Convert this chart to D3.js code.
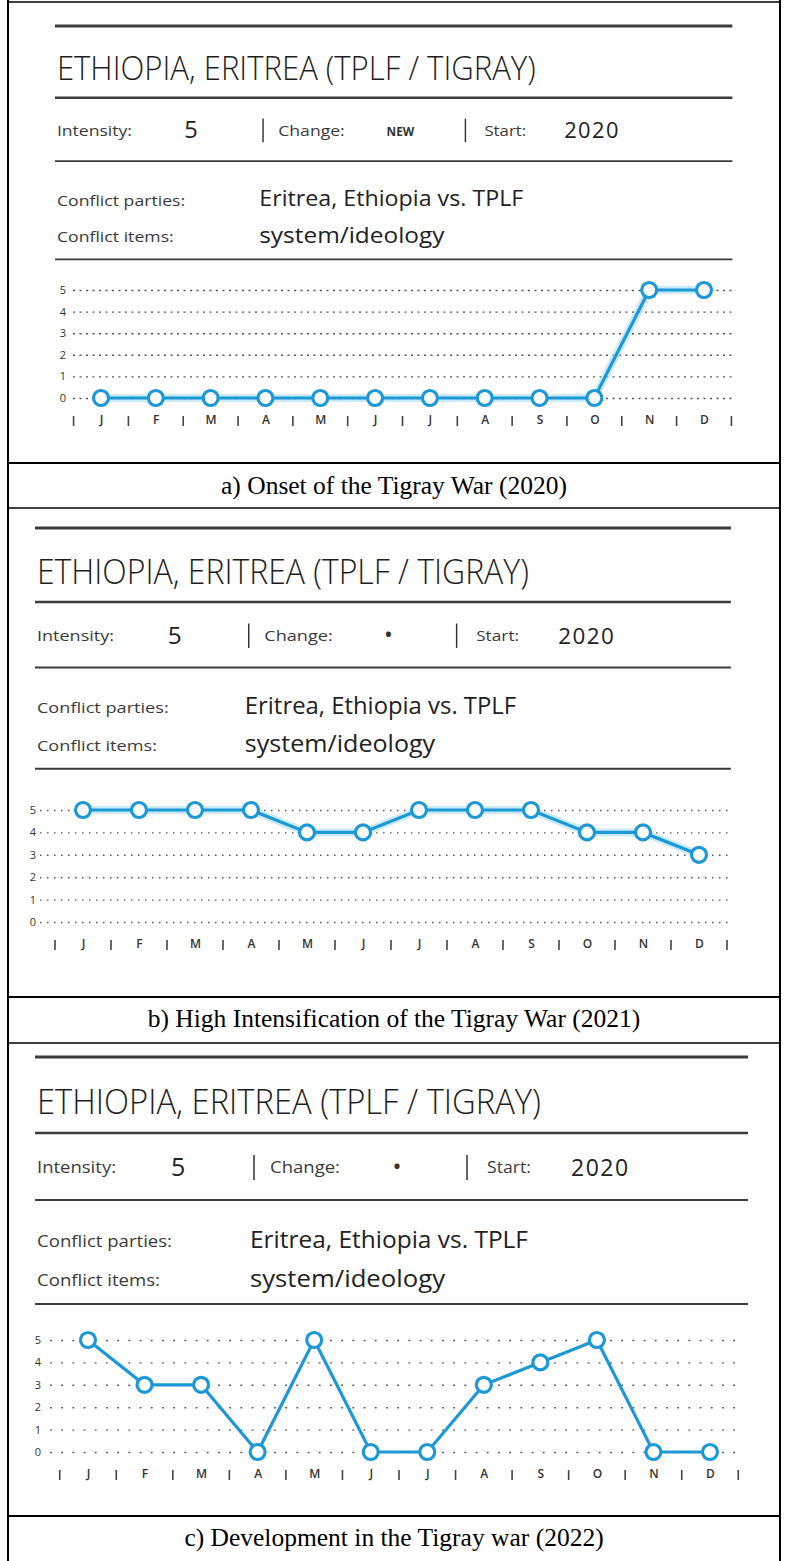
<!DOCTYPE html>
<html>
<head>
<meta charset="utf-8">
<script src="https://cdn.jsdelivr.net/npm/d3@7"></script>
<style>
  body { margin: 0; background: #fff; }
  svg { display: block; }
</style>
</head>
<body>
<svg id="fig"></svg>
<script>
// ---- data ----
const monthKeys = ["Jan", "Feb", "Mar", "Apr", "May", "Jun", "Jul", "Aug", "Sep", "Oct", "Nov", "Dec"];
const monthLabels = ["J", "F", "M", "A", "M", "J", "J", "A", "S", "O", "N", "D"];
const intensityTicks = [0, 1, 2, 3, 4, 5];
const intensity2020 = [0, 0, 0, 0, 0, 0, 0, 0, 0, 0, 5, 5];
const intensity2021 = [5, 5, 5, 5, 4, 4, 5, 5, 5, 4, 4, 3];
const intensity2022 = [5, 3, 3, 0, 5, 0, 0, 3, 4, 5, 0, 0];
const conflictTitle = "ETHIOPIA, ERITREA (TPLF / TIGRAY)";
const conflictParties = "Eritrea, Ethiopia vs. TPLF";
const conflictItems = "system/ideology";
const intensityValues = ["5", "5", "5"];
const changeValues = ["NEW", "•", "•"];
const startValues = ["2020", "2020", "2020"];
const captions = [
  "a) Onset of the Tigray War (2020)",
  "b) High Intensification of the Tigray War (2021)",
  "c) Development in the Tigray war (2022)"
];

const W = 785, H = 1561;
const blue = "#1b98d5";
const sans = "'Open Sans', 'DejaVu Sans', sans-serif";

// layout of the three screenshots (header is drawn in c's coordinates and scaled)
const panels = [
  { values: intensity2020,
    head: { tx: 55, ty: 26, sx: 0.95, sy: 0.945 },
    chart: { x0: 101, x1: 704, y5: 290, y0: 398, g0: 73, g1: 735, lab: 421, ylx: 62, dash: "2,4.5", halo: true },
    capY: 494 },
  { values: intensity2021,
    head: { tx: 35, ty: 528, sx: 0.976, sy: 0.975 },
    chart: { x0: 83, x1: 699, y5: 810, y0: 922, g0: 40, g1: 733, lab: 945, ylx: 32, dash: "1.5,5.5", halo: true },
    capY: 1027 },
  { values: intensity2022,
    head: { tx: 35, ty: 1057, sx: 1, sy: 1 },
    chart: { x0: 88, x1: 710, y5: 1340, y0: 1452, g0: 50, g1: 743, lab: 1475, ylx: 37, dash: "1.8,9.4", halo: false },
    capY: 1546 }
];

const svg = d3.select("#fig").attr("width", W).attr("height", H);
svg.append("rect").attr("width", W).attr("height", H).attr("fill", "#fff");

function drawHeader(p, i) {
  const h = p.head;
  const g = svg.append("g")
    .attr("transform", `translate(${h.tx},${h.ty}) scale(${h.sx},${h.sy})`);

  [[0, 3], [76, 2.6], [143, 2], [247, 2]].forEach(([y, w]) => {
    g.append("line").attr("x1", 0).attr("x2", 713).attr("y1", y).attr("y2", y)
      .attr("stroke", "#3c3c3c").attr("stroke-width", w);
  });

  g.append("text").attr("x", 2).attr("y", 57)
    .attr("font-family", sans).attr("font-weight", 300).attr("font-size", 35)
    .attr("textLength", 504).attr("lengthAdjust", "spacingAndGlyphs")
    .attr("fill", "#1e1e1e").text(conflictTitle);

  const label = (x, y, t, len) => {
    const el = g.append("text").attr("x", x).attr("y", y)
      .attr("font-family", sans).attr("font-size", 15.5).attr("fill", "#3a3a3a").text(t);
    if (len) el.attr("textLength", len).attr("lengthAdjust", "spacingAndGlyphs");
    return el;
  };

  label(2, 116, "Intensity:", 79);
  g.append("text").attr("x", 136).attr("y", 119)
    .attr("font-family", sans).attr("font-size", 25).attr("fill", "#222").text(intensityValues[i]);

  [219, 432].forEach(x => {
    g.append("line").attr("x1", x).attr("x2", x).attr("y1", 98).attr("y2", 123)
      .attr("stroke", "#333").attr("stroke-width", 1.5);
  });
  label(235, 116, "Change:", 70);
  if (changeValues[i] === "NEW") {
    g.append("text").attr("x", 349).attr("y", 116)
      .attr("font-family", sans).attr("font-weight", 700).attr("font-size", 12.5)
      .attr("fill", "#333").text(changeValues[i]);
  } else {
    g.append("text").attr("x", 362).attr("y", 118).attr("text-anchor", "middle")
      .attr("font-family", sans).attr("font-size", 24).attr("fill", "#333").text(changeValues[i]);
  }
  label(452, 116, "Start:", 44);
  g.append("text").attr("x", 536).attr("y", 119)
    .attr("font-family", sans).attr("font-weight", 500).attr("font-size", 23)
    .attr("letter-spacing", 1.5).attr("fill", "#222").text(startValues[i]);

  label(2, 190, "Conflict parties:", 135);
  label(2, 229, "Conflict items:", 123);
  g.append("text").attr("x", 215).attr("y", 191)
    .attr("font-family", sans).attr("font-size", 24).attr("fill", "#222")
    .attr("textLength", 278).attr("lengthAdjust", "spacingAndGlyphs").text(conflictParties);
  g.append("text").attr("x", 215).attr("y", 230)
    .attr("font-family", sans).attr("font-size", 24).attr("fill", "#222")
    .attr("textLength", 195).attr("lengthAdjust", "spacingAndGlyphs").text(conflictItems);
}

function drawChart(p) {
  const c = p.chart;
  const x = d3.scalePoint().domain(monthKeys).range([c.x0, c.x1]);
  const y = d3.scaleLinear().domain([0, 5]).range([c.y0, c.y5]);
  const step = x.step();
  const g = svg.append("g");

  // dotted grid + intensity labels
  const yAxis = g.append("g")
    .attr("transform", `translate(${c.g0},0)`)
    .call(d3.axisLeft(y).tickValues(intensityTicks).tickFormat(d3.format("d"))
      .tickSize(-(c.g1 - c.g0)).tickPadding(c.g0 - c.ylx - 4));
  yAxis.select(".domain").remove();
  yAxis.selectAll("line").attr("stroke", "#555").attr("stroke-width", 1.4)
    .attr("stroke-dasharray", c.dash);
  yAxis.selectAll("text").attr("font-family", sans).attr("font-size", 11)
    .attr("fill", "#333");

  // month letters + separators
  const xAxis = g.append("g")
    .attr("transform", `translate(0,${c.lab - 6})`)
    .call(d3.axisBottom(x).tickSize(0).tickPadding(0).tickFormat((d, i) => monthLabels[i]));
  xAxis.select(".domain").remove();
  xAxis.selectAll("text").attr("font-family", sans).attr("font-size", 12)
    .attr("font-weight", 600).attr("fill", "#333");

  const seps = monthKeys.map(m => x(m) - step / 2).concat([x(monthKeys[11]) + step / 2]);
  g.selectAll(".sep").data(seps).join("line").attr("class", "sep")
    .attr("x1", d => d).attr("x2", d => d)
    .attr("y1", c.lab - 5).attr("y2", c.lab + 5)
    .attr("stroke", "#444").attr("stroke-width", 1.6);

  const pts = monthKeys.map((m, i) => ({ m, v: p.values[i] }));
  const line = d3.line().x(d => x(d.m)).y(d => y(d.v));

  if (c.halo) {
    g.append("path").datum(pts).attr("d", line).attr("fill", "none")
      .attr("stroke", "#9fd8f2").attr("stroke-width", 8).attr("opacity", 0.55);
  }
  g.append("path").datum(pts).attr("d", line).attr("fill", "none")
    .attr("stroke", blue).attr("stroke-width", 3.2);

  g.selectAll(".pt").data(pts).join("circle").attr("class", "pt")
    .attr("cx", d => x(d.m)).attr("cy", d => y(d.v)).attr("r", 7.5)
    .attr("fill", "#fff").attr("stroke", blue).attr("stroke-width", 3.2);
}

panels.forEach((p, i) => {
  drawHeader(p, i);
  drawChart(p);
  svg.append("text").attr("x", 394).attr("y", p.capY).attr("text-anchor", "middle")
    .attr("font-family", "'Liberation Serif', 'Times New Roman', serif")
    .attr("font-size", 25.5).attr("fill", "#000").text(captions[i]);
});

// table borders
const border = (x1, y1, x2, y2, w) => svg.append("line")
  .attr("x1", x1).attr("y1", y1).attr("x2", x2).attr("y2", y2)
  .attr("stroke", "#000").attr("stroke-width", w);
border(8, 0, 8, H, 2);
border(780, 0, 780, H, 2);
border(8, 2, 780, 2, 1.5);
[[463, 2], [508, 1.5], [997, 2], [1043, 1.5], [1516, 2]].forEach(([y, w]) => border(8, y, 780, y, w));
</script>
</body>
</html>
